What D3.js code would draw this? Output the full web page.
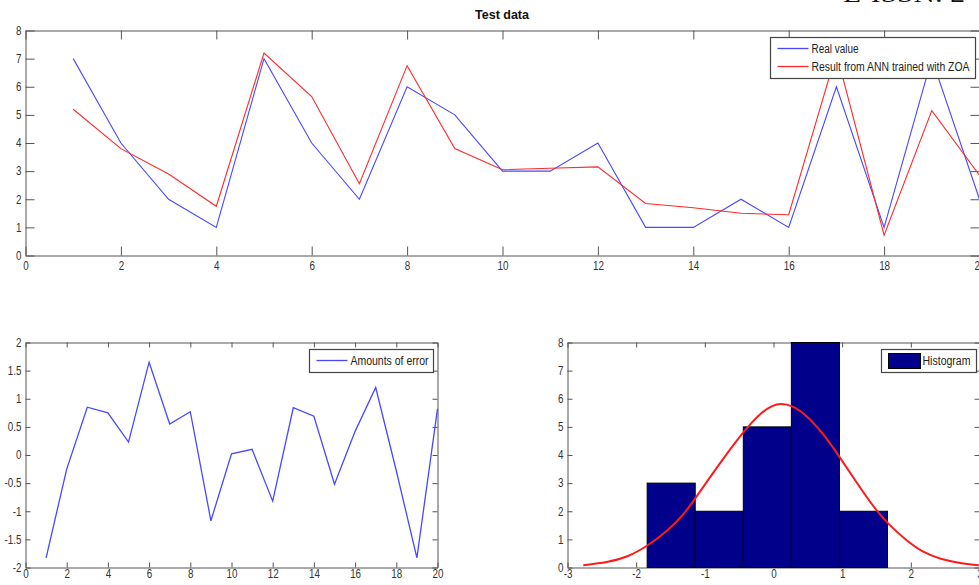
<!DOCTYPE html>
<head>
    <meta charset="utf-8">
    <title>Test data</title>
    <script type="text/javascript" src="https://d3js.org/d3.v7.min.js"></script>
    <style>
        body { margin: 0; background: #fff; }
        svg text { font-family: "Liberation Sans", Arial, sans-serif; fill: #333; }
        .axis text { font-size: 12px; }
        .axis path, .axis line { stroke: #555; }
        .legend text { font-size: 12.5px; fill: #222; }
    </style>
</head>
<body>
<div id="container"></div>
<script>
    //---------------------------- DATA -----------------------------//
    const steps = d3.range(1, 21);
    const realValue = [7, 4, 2, 1, 7, 4, 2, 6, 5, 3, 3, 4, 1, 1, 2, 1, 6, 1, 7, 2];
    const annResult = [5.2, 3.8, 2.9, 1.75, 7.2, 5.65, 2.55, 6.75, 3.8, 3.05, 3.1, 3.15, 1.85, 1.7, 1.5, 1.45, 7.2, 0.72, 5.15, 2.85];
    const errorAmounts = [-1.83, -0.25, 0.85, 0.75, 0.23, 1.65, 0.55, 0.77, -1.17, 0.02, 0.1, -0.82, 0.84, 0.69, -0.52, 0.42, 1.2, -0.28, -1.83, 0.82];

    const binEdges = [-1.84, -1.14, -0.44, 0.26, 0.96, 1.66];
    const binCounts = [3, 2, 5, 8, 2];

    // fitted curve
    const fitX = [-2.77, -2.42, -2.13, -1.83, -1.54, -1.30, -1.13, -0.91, -0.72, -0.43, -0.18, -0.01, 0.10, 0.27, 0.49, 0.73, 0.97, 1.21, 1.46, 1.67, 1.94, 2.18, 2.43, 2.72, 2.99];
    const fitY = [0.08, 0.18, 0.36, 0.77, 1.30, 1.90, 2.49, 3.26, 3.91, 4.86, 5.52, 5.77, 5.83, 5.77, 5.40, 4.74, 3.91, 3.02, 2.14, 1.54, 0.95, 0.53, 0.30, 0.15, 0.08];

    const topXTicks = [0, 2, 4, 6, 8, 10, 12, 14, 16, 18, 20];
    const topYTicks = [0, 1, 2, 3, 4, 5, 6, 7, 8];
    const errXTicks = [0, 2, 4, 6, 8, 10, 12, 14, 16, 18, 20];
    const errYTicks = [-2, -1.5, -1, -0.5, 0, 0.5, 1, 1.5, 2];
    const histXTicks = [-3, -2, -1, 0, 1, 2, 3];
    const histYTicks = [0, 1, 2, 3, 4, 5, 6, 7, 8];

    //---------------------------- SVG ------------------------------//
    const width = 979, height = 585;
    const svg = d3.select("div#container").append("svg")
        .attr("width", width)
        .attr("height", height);

    const narrow = "scale(0.82,1)";

    // draws a MATLAB-like boxed axes with inward ticks on all four sides
    function panel(box, xDomain, yDomain, xTicks, yTicks, tick, xPad) {
        const x = d3.scaleLinear().domain(xDomain).range([box.left, box.right]);
        const y = d3.scaleLinear().domain(yDomain).range([box.bottom, box.top]);
        const fmt = d => String(d).replace("\u2212", "-");

        svg.append("g").attr("class", "axis")
            .attr("transform", `translate(0,${box.bottom})`)
            .call(d3.axisBottom(x).tickValues(xTicks).tickFormat(fmt).tickSizeInner(-tick).tickSizeOuter(0).tickPadding(xPad))
            .selectAll("text").attr("transform", narrow);
        svg.append("g").attr("class", "axis")
            .attr("transform", `translate(0,${box.top})`)
            .call(d3.axisTop(x).tickValues(xTicks).tickFormat("").tickSizeInner(-tick).tickSizeOuter(0));
        svg.append("g").attr("class", "axis")
            .attr("transform", `translate(${box.left},0)`)
            .call(d3.axisLeft(y).tickValues(yTicks).tickFormat(fmt).tickSizeInner(-tick).tickSizeOuter(0).tickPadding(5))
            .selectAll("text").attr("transform", narrow);
        svg.append("g").attr("class", "axis")
            .attr("transform", `translate(${box.right},0)`)
            .call(d3.axisRight(y).tickValues(yTicks).tickFormat("").tickSizeInner(-tick).tickSizeOuter(0));
        return {x, y};
    }

    function legend(box, items) {
        const g = svg.append("g").attr("class", "legend");
        g.append("rect")
            .attr("x", box.x).attr("y", box.y)
            .attr("width", box.w).attr("height", box.h)
            .attr("fill", "#fff").attr("stroke", "#444").attr("stroke-width", 1.2);
        items.forEach(function(it, i) {
            const cy = box.y + 11 + i * 18;
            if (it.patch) {
                g.append("rect").attr("x", box.x + 7).attr("y", cy - 7)
                    .attr("width", 32).attr("height", 15)
                    .attr("fill", it.color).attr("stroke", "#000");
            } else {
                g.append("line").attr("x1", box.x + 7).attr("x2", box.x + 38)
                    .attr("y1", cy).attr("y2", cy)
                    .attr("stroke", it.color).attr("stroke-width", 1.3);
            }
            g.append("text").attr("x", box.x + 41).attr("y", cy + 4.5)
                .attr("textLength", it.len).attr("lengthAdjust", "spacingAndGlyphs")
                .text(it.label);
        });
    }

    //--------------------------- TOP -------------------------------//
    const topAx = panel({left: 25.5, right: 979.5, top: 30.5, bottom: 255.5}, [0, 20], [0, 8], topXTicks, topYTicks, 9, 6);
    const line = d3.line().x((d, i) => topAx.x(steps[i])).y(d => topAx.y(d));

    svg.append("path").datum(realValue)
        .attr("fill", "none").attr("stroke", "#4848ff").attr("stroke-width", 1.1)
        .attr("d", line);
    svg.append("path").datum(annResult)
        .attr("fill", "none").attr("stroke", "#ff2a2a").attr("stroke-width", 1.1)
        .attr("d", line);

    svg.append("text")
        .attr("x", 502).attr("y", 19)
        .attr("text-anchor", "middle")
        .attr("textLength", 54).attr("lengthAdjust", "spacingAndGlyphs")
        .style("font-weight", "bold").style("font-size", "13px").style("fill", "#111")
        .text("Test data");

    legend({x: 770.5, y: 37.5, w: 205, h: 41}, [
        {label: "Real value", color: "#4848ff", len: 47},
        {label: "Result from ANN trained with ZOA", color: "#ff2a2a", len: 158}
    ]);

    //----------------------- BOTTOM LEFT ---------------------------//
    const errAx = panel({left: 25.5, right: 437.5, top: 342.5, bottom: 567.5}, [0, 20], [-2, 2], errXTicks, errYTicks, 5, 2);
    svg.append("path").datum(errorAmounts)
        .attr("fill", "none").attr("stroke", "#4848ff").attr("stroke-width", 1.3)
        .attr("d", d3.line().x((d, i) => errAx.x(steps[i])).y(d => errAx.y(d)));

    legend({x: 309.5, y: 349.5, w: 124, h: 23}, [
        {label: "Amounts of error", color: "#4848ff", len: 78}
    ]);

    //----------------------- BOTTOM RIGHT --------------------------//
    const histAx = panel({left: 567.5, right: 979.5, top: 342.5, bottom: 567.5}, [-3, 3], [0, 8], histXTicks, histYTicks, 5, 2);
    svg.append("g").selectAll("rect")
        .data(binCounts)
        .enter().append("rect")
        .attr("x", (d, i) => histAx.x(binEdges[i]))
        .attr("width", (d, i) => histAx.x(binEdges[i + 1]) - histAx.x(binEdges[i]))
        .attr("y", d => histAx.y(d))
        .attr("height", d => histAx.y(0) - histAx.y(d))
        .attr("fill", "#00008b").attr("stroke", "#000").attr("stroke-width", 1);

    svg.append("path").datum(fitY)
        .attr("fill", "none").attr("stroke", "#ff1a1a").attr("stroke-width", 2)
        .attr("d", d3.line().curve(d3.curveBasis).x((d, i) => histAx.x(fitX[i])).y(d => histAx.y(d)));

    legend({x: 881.5, y: 349.5, w: 95, h: 23}, [
        {label: "Histogram", color: "#00008b", patch: true, len: 48}
    ]);

    // clipped header text at the very top of the page
    svg.append("text")
        .attr("x", 843).attr("y", 1.5)
        .attr("textLength", 122).attr("lengthAdjust", "spacingAndGlyphs")
        .style("font-family", "'Liberation Serif', serif").style("font-size", "24px").style("fill", "#111")
        .text("E-ISSN: 2");
</script>
</body>
